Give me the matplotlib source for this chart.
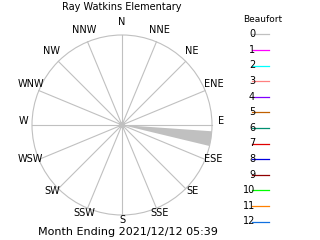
import matplotlib
matplotlib.use('Agg')
import matplotlib.pyplot as plt
from matplotlib.patches import Wedge, Circle
import numpy as np

# ---------------------------------------------------------------------------
# Data
# ---------------------------------------------------------------------------

TITLE = 'Ray Watkins Elementary'
FOOTER = 'Month Ending 2021/12/12 05:39'

COMPASS = ['N', 'NNE', 'NE', 'ENE', 'E', 'ESE', 'SE', 'SSE',
           'S', 'SSW', 'SW', 'WSW', 'W', 'WNW', 'NW', 'NNW']

# petal: centre direction (deg, compass), angular width (deg), length (fraction of max)
petal_dirs = [98.75]
petal_widths = [9.5]
petal_lengths = [1.0]
petal_beaufort = [0]
calm_radius = 0.035

BEAUFORT = list(range(13))
BEAUFORT_COLORS = ['#c0c0c0', '#ff00ff', '#00ffff', '#ff8080', '#8000ff',
                   '#c06000', '#008f70', '#e00000', '#0000e0', '#900000',
                   '#00ff00', '#ff8000', '#1070e0']

GRID = '#c0c0c0'
FONT = 'DejaVu Sans'

# ---------------------------------------------------------------------------
# Figure
# ---------------------------------------------------------------------------

W, H = 320, 240
fig = plt.figure(figsize=(W / 100, H / 100), dpi=100, facecolor='white')

# rose axes: unit circle centred at (122,125) px, radius 90 px
cx, cy, R = 122, 125, 90
half = 100
ax = fig.add_axes([(cx - half) / W, (H - cy - half) / H, 2 * half / W, 2 * half / H])
lim = half / R
ax.set_xlim(-lim, lim)
ax.set_ylim(-lim, lim)
ax.set_aspect('equal')
ax.axis('off')

# petals
for d, w, l, b in zip(petal_dirs, petal_widths, petal_lengths, petal_beaufort):
    t1 = 90 - d - w / 2
    t2 = 90 - d + w / 2
    ax.add_patch(Wedge((0, 0), l, t1, t2, facecolor=BEAUFORT_COLORS[b],
                       edgecolor='none', zorder=1))
ax.add_patch(Circle((0, 0), calm_radius, facecolor=BEAUFORT_COLORS[0],
                    edgecolor='none', zorder=1))

# grid: outer circle and 16 spokes
ax.add_patch(Circle((0, 0), 1.0, fill=False, edgecolor=GRID, linewidth=0.8, zorder=2))
rl, lift = 1.1, 0.039
for i, name in enumerate(COMPASS):
    a = np.deg2rad(90 - i * 22.5)
    ax.plot([0, np.cos(a)], [0, np.sin(a)], color=GRID, linewidth=0.8, zorder=2)
    ax.text(rl * np.cos(a), rl * np.sin(a) + lift, name, ha='center', va='center',
            fontsize=7, family=FONT, color='black')

# ---------------------------------------------------------------------------
# Text and legend in pixel coordinates
# ---------------------------------------------------------------------------

tax = fig.add_axes([0, 0, 1, 1], facecolor='none')
tax.set_xlim(0, W)
tax.set_ylim(H, 0)
tax.axis('off')

tax.text(cx, 7, TITLE, ha='center', va='center', fontsize=7, family=FONT)
tax.text(128, 232, FOOTER, ha='center', va='center', fontsize=8, family=FONT)

tax.text(263, 20, 'Beaufort', ha='center', va='center', fontsize=6.5, family=FONT)
y0, dy = 34.3, 15.6
for k, (b, c) in enumerate(zip(BEAUFORT, BEAUFORT_COLORS)):
    y = y0 + k * dy
    tax.plot([252, 269], [y, y], color=c, linewidth=0.9)
    tax.text(255, y, str(b), ha='right', va='center', fontsize=7, family=FONT)

fig.savefig('out.png', dpi=100, facecolor='white')
